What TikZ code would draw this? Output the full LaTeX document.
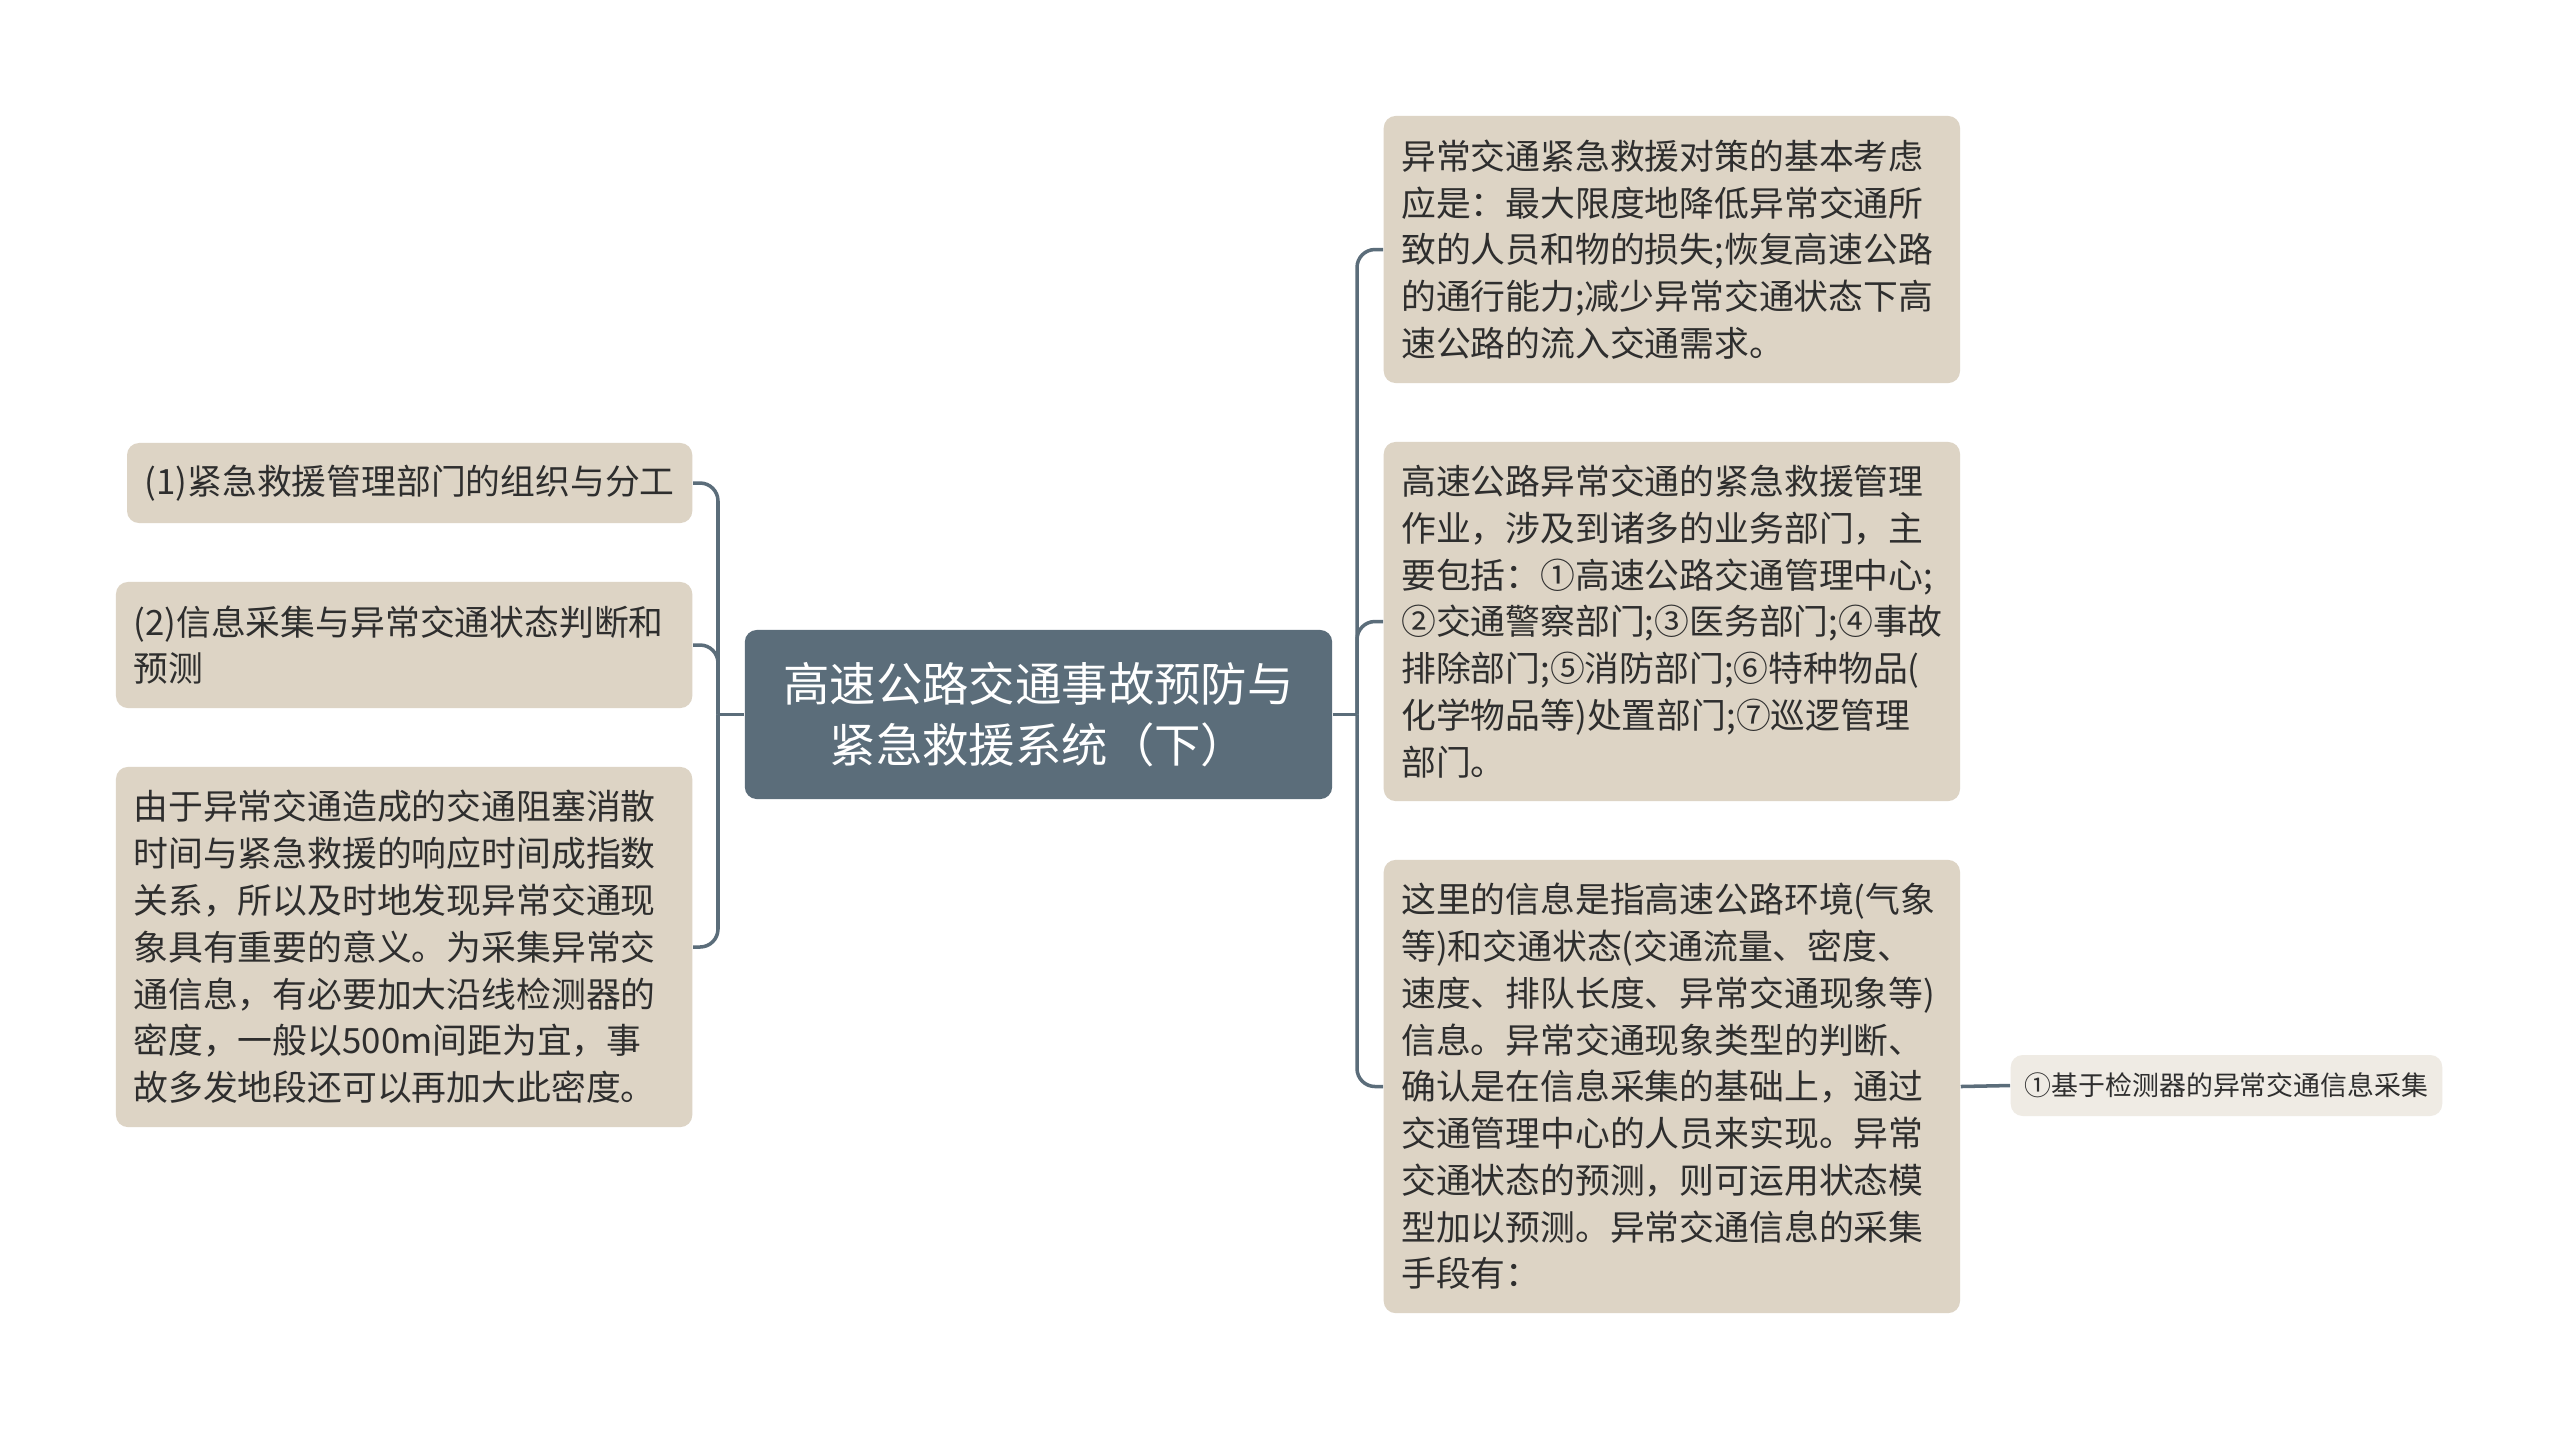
\documentclass[tikz,border=0pt]{standalone}
\usepackage{fontspec}
\setmainfont{Noto Sans CJK SC}
\usepackage{xcolor}
\usepackage{tikz}

\definecolor{slate}{HTML}{5B6D7A}
\definecolor{beige}{HTML}{DDD4C5}
\definecolor{pale}{HTML}{EFEBE4}
\definecolor{ink}{HTML}{2E2E2E}

\tikzset{
  topic/.style={fill=slate, text=white, rounded corners=0.12cm, minimum width=5.87cm,
    minimum height=1.69cm, align=center, font=\fontsize{13.2}{17.6}\selectfont},
  card/.style={fill=beige, text=ink, rounded corners=0.12cm, inner xsep=0.175cm,
    inner ysep=0pt, font=\fontsize{9.9}{13.3}\selectfont},
  leaf/.style={card, text width=5.41cm, align=left},
  subleaf/.style={fill=pale, text=ink, rounded corners=0.12cm, inner xsep=0.14cm,
    inner ysep=0pt, minimum height=0.61cm, font=\fontsize{7.65}{9}\selectfont},
  conn/.style={draw=slate, line width=1pt, rounded corners=0.18cm}
}

\begin{document}
\begin{tikzpicture}[x=0.01cm,y=-0.01cm]
    \fill[white] (0,0) rectangle (2560,1429);
    \useasboundingbox (0,0) rectangle (2560,1429);

    % centre
    \node[topic] (root) at (1038.5,714.5) {高速公路交通事故预防与\\紧急救援系统（下）};

    % left side
    \node[card, anchor=east, minimum height=0.80cm] (l1) at (693,483) {(1)紧急救援管理部门的组织与分工};
    \node[leaf, anchor=east, minimum height=1.26cm] (l2) at (693,645) {(2)信息采集与异常交通状态判断和\\预测};
    \node[leaf, anchor=east, minimum height=3.60cm] (l3) at (693,947) {由于异常交通造成的交通阻塞消散\\时间与紧急救援的响应时间成指数\\关系，所以及时地发现异常交通现\\象具有重要的意义。为采集异常交\\通信息，有必要加大沿线检测器的\\密度，一般以500m间距为宜，事\\故多发地段还可以再加大此密度。};

    % right side
    \node[leaf, anchor=west, minimum height=2.67cm] (r1) at (1383,249.5) {异常交通紧急救援对策的基本考虑\\应是：最大限度地降低异常交通所\\致的人员和物的损失;恢复高速公路\\的通行能力;减少异常交通状态下高\\速公路的流入交通需求。};
    \node[leaf, anchor=west, minimum height=3.59cm] (r2) at (1383,621.5) {高速公路异常交通的紧急救援管理\\作业，涉及到诸多的业务部门，主\\要包括：①高速公路交通管理中心;\\②交通警察部门;③医务部门;④事故\\排除部门;⑤消防部门;⑥特种物品(\\化学物品等)处置部门;⑦巡逻管理\\部门。};
    \node[leaf, anchor=west, minimum height=4.53cm] (r3) at (1383,1086.5) {这里的信息是指高速公路环境(气象\\等)和交通状态(交通流量、密度、\\速度、排队长度、异常交通现象等)\\信息。异常交通现象类型的判断、\\确认是在信息采集的基础上，通过\\交通管理中心的人员来实现。异常\\交通状态的预测，则可运用状态模\\型加以预测。异常交通信息的采集\\手段有：};
    \node[subleaf, anchor=west] (s1) at (2010,1085.5) {①基于检测器的异常交通信息采集};

    % connectors
    \coordinate (lj) at (718,714.5);
    \coordinate (rj) at (1357,714.5);
    \draw[conn] (root.west) -- (lj);
    \draw[conn] (root.east) -- (rj);
    \foreach \n in {l1,l2,l3} \draw[conn] (lj) |- (\n.east);
    \foreach \n in {r1,r2,r3} \draw[conn] (rj) |- (\n.west);
    \draw[conn] (r3.east) -- (s1.west);
\end{tikzpicture}
\end{document}
